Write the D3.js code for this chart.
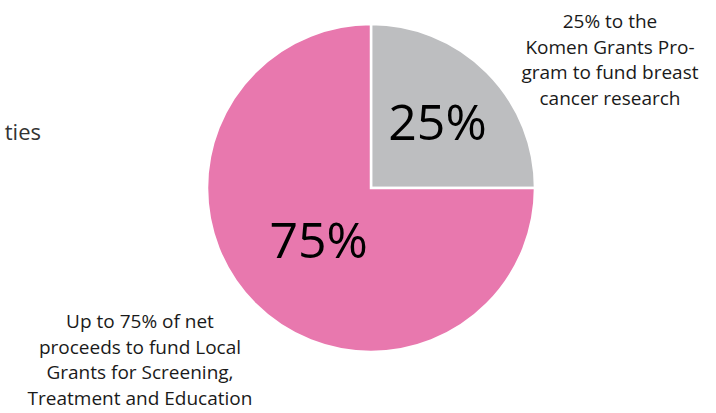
<!DOCTYPE html>
<html>
<head>
<meta charset="utf-8">
<script src="https://cdn.jsdelivr.net/npm/d3@7"></script>
<style>
  body { margin: 0; background: #fff; }
  svg { display: block; }
  text { font-family: "Open Sans", "Noto Sans", sans-serif; fill: #1a1a1a; }
</style>
</head>
<body>
<div id="chart"></div>
<script>
const width = 716, height = 413;

// data
const categories = ["Komen Grants Program", "Local Grants"];
const shares = [25, 75];
const sliceLabels = ["25%", "75%"];
const colors = ["#bdbec0", "#e878ae"];
const noteLines = [
    ["25% to the", "Komen Grants Pro-", "gram to fund breast", "cancer research"],
    ["Up to 75% of net", "proceeds to fund Local", "Grants for Screening,", "Treatment and Education"]
];

const cx = 371, cy = 188, radius = 164;

const svg = d3.select("#chart")
    .append("svg")
    .attr("width", width)
    .attr("height", height);

// cut-off text on the left edge
svg.append("text")
    .attr("x", 41)
    .attr("y", 140)
    .attr("text-anchor", "end")
    .style("font-size", "22px")
    .style("fill", "#333")
    .text("ties");

const pie = d3.pie()
    .sort(null)
    .value(d => d);

const arc = d3.arc()
    .innerRadius(0)
    .outerRadius(radius);

const g = svg.append("g")
    .attr("transform", `translate(${cx},${cy})`);

const slices = pie(shares);

g.selectAll("path")
    .data(slices)
    .enter()
    .append("path")
    .attr("d", arc)
    .attr("fill", (d, i) => colors[i])
    .attr("stroke", "#fff")
    .attr("stroke-width", 2.5)
    .attr("stroke-linejoin", "miter");

// big percentage labels, at different depths in each slice
const labelRadius = [94, 74];
g.selectAll(".pct")
    .data(slices)
    .enter()
    .append("text")
    .attr("class", "pct")
    .attr("transform", (d, i) => {
        const a = d3.arc().innerRadius(labelRadius[i]).outerRadius(labelRadius[i]);
        const c = a.centroid(d);
        return `translate(${c[0]},${c[1]})`;
    })
    .attr("text-anchor", "middle")
    .attr("dy", "0.36em")
    .style("font-size", "50px")
    .style("fill", "#000")
    .text((d, i) => sliceLabels[i]);

// side notes
const notePos = [{ x: 610, y: 28 }, { x: 140, y: 328 }];
noteLines.forEach((lines, i) => {
    const t = svg.append("text")
        .attr("text-anchor", "middle")
        .style("font-size", "19px");
    lines.forEach((line, j) => {
        t.append("tspan")
            .attr("x", notePos[i].x)
            .attr("y", notePos[i].y + j * 25.5)
            .text(line);
    });
});
</script>
</body>
</html>
